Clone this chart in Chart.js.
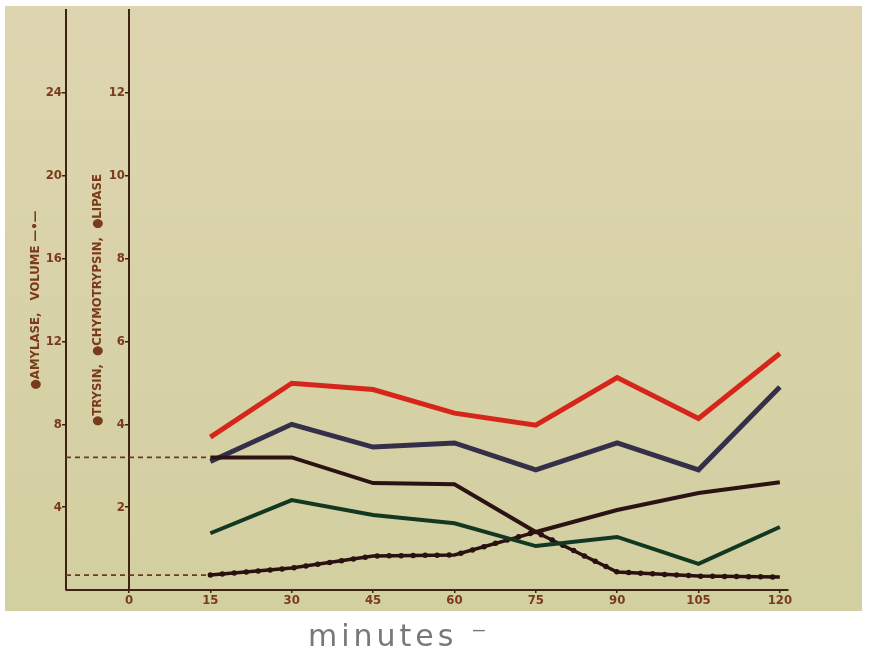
<!DOCTYPE html>
<html>
<head>
<meta charset="utf-8">
<script src="https://cdn.jsdelivr.net/npm/chart.js@4/dist/chart.umd.min.js"></script>
<style>
  html, body { margin: 0; padding: 0; background: #ffffff; }
  #wrap { width: 870px; height: 654px; }
</style>
</head>
<body>
<div id="wrap"><canvas id="c" width="870" height="654"></canvas></div>
<script>
// Sampling times (minutes after stimulation)
const minutes = [15, 30, 45, 60, 75, 90, 105, 120];
const xTicks = [0, 15, 30, 45, 60, 75, 90, 105, 120];
const leftTicks = [4, 8, 12, 16, 20, 24];
const rightTicks = [2, 4, 6, 8, 10, 12];

// Right-hand scale: enzyme output
const lipase = [3.69, 4.99, 4.84, 4.27, 3.98, 5.13, 4.14, 5.71];
const trypsin = [3.2, 3.2, 2.58, 2.55, 1.4, 1.93, 2.34, 2.6];
const chymotrypsin = [1.37, 2.17, 1.81, 1.61, 1.06, 1.28, 0.63, 1.52];

// Left-hand scale: amylase and secretion volume
const amylase = [6.2, 8.0, 6.9, 7.1, 5.8, 7.1, 5.8, 9.8];
const volume = [0.72, 1.06, 1.64, 1.69, 2.8, 0.87, 0.67, 0.63];

// Basal levels before stimulation (left-hand scale)
const basalLevels = [6.4, 0.72];

const leftTitle = '\u25CFAMYLASE,   VOLUME \u2014\u2022\u2014';
const rightTitle = '\u25CFTRYSIN,  \u25CFCHYMOTRYPSIN,  \u25CFLIPASE';
const xTitle = 'minutes \u207B';

const axisColor = '#3f2216';
const labelColor = '#7a3a1c';
const narrow = '"Liberation Sans Narrow", "DejaVu Sans Condensed", "DejaVu Sans", sans-serif';

const pts = arr => minutes.map((m, i) => ({ x: m, y: arr[i] }));

// Photographic paper backdrop
const paper = {
  id: 'paper',
  beforeDraw(chart) {
    const { ctx } = chart;
    ctx.save();
    ctx.fillStyle = '#ffffff';
    ctx.fillRect(0, 0, chart.width, chart.height);
    const g = ctx.createLinearGradient(0, 6, 0, 611);
    g.addColorStop(0, '#ded5b0');
    g.addColorStop(1, '#d2cfa0');
    ctx.fillStyle = g;
    ctx.fillRect(5, 6, 857, 605);
    ctx.restore();
  }
};

// Dashed basal levels from the left axis to the first sample, and the
// base line joining the two vertical axes
const basal = {
  id: 'basal',
  beforeDatasetsDraw(chart) {
    const { ctx, scales: { x, yL } } = chart;
    ctx.save();
    ctx.strokeStyle = '#6b3a20';
    ctx.lineWidth = 1.8;
    ctx.setLineDash([5, 4]);
    const x0 = yL.right, x1 = x.getPixelForValue(minutes[0]);
    basalLevels.forEach(v => {
      const py = yL.getPixelForValue(v);
      ctx.beginPath();
      ctx.moveTo(x0, py);
      ctx.lineTo(x1, py);
      ctx.stroke();
    });
    ctx.setLineDash([]);
    ctx.strokeStyle = axisColor;
    ctx.lineWidth = 2;
    ctx.beginPath();
    ctx.moveTo(yL.right, x.top);
    ctx.lineTo(x.left, x.top);
    ctx.stroke();
    ctx.restore();
  }
};

// Time caption under the axis
const caption = {
  id: 'caption',
  afterDraw(chart) {
    const { ctx, scales: { x } } = chart;
    ctx.save();
    ctx.font = '30px "DejaVu Sans", sans-serif';
    ctx.fillStyle = '#787878';
    try { ctx.letterSpacing = '4px'; } catch (e) {}
    ctx.textAlign = 'left';
    ctx.textBaseline = 'alphabetic';
    ctx.fillText(xTitle, x.getPixelForValue(33), x.bottom + 36);
    ctx.restore();
  }
};

const tickFont = { family: narrow, size: 13, weight: 'bold' };
const titleFont = { family: narrow, size: 13, weight: 'bold' };

new Chart(document.getElementById('c'), {
  type: 'line',
  data: {
    datasets: [
      { label: 'Chymotrypsin', data: pts(chymotrypsin), yAxisID: 'yR', borderColor: '#123822', borderWidth: 4 },
      { label: 'Trypsin', data: pts(trypsin), yAxisID: 'yR', borderColor: '#2c1313', borderWidth: 4 },
      { label: 'Amylase', data: pts(amylase), yAxisID: 'yL', borderColor: '#34304a', borderWidth: 5 },
      { label: 'Lipase', data: pts(lipase), yAxisID: 'yR', borderColor: '#d6261b', borderWidth: 5 },
      { label: 'Volume', data: pts(volume), yAxisID: 'yL', borderColor: '#2a1010', borderWidth: 3.5 },
      { label: 'Volume beads', data: pts(volume), yAxisID: 'yL', borderColor: '#2a1010', borderWidth: 5.5,
        borderDash: [0, 12], borderCapStyle: 'round' }
    ]
  },
  options: {
    responsive: false,
    devicePixelRatio: 1,
    animation: false,
    layout: { padding: { left: 4, top: 10, right: 82, bottom: 44 } },
    elements: {
      point: { radius: 0, hoverRadius: 0 },
      line: { tension: 0, borderJoinStyle: 'miter', borderCapStyle: 'butt', fill: false }
    },
    plugins: { legend: { display: false }, tooltip: { enabled: false } },
    scales: {
      x: {
        type: 'linear', position: 'bottom', min: 0, max: 121.5,
        afterBuildTicks: s => { s.ticks = xTicks.map(v => ({ value: v })); },
        afterFit: s => { s.height = 20; },
        border: { color: axisColor, width: 2 },
        grid: { drawOnChartArea: false, drawTicks: true, tickLength: 3, color: axisColor, lineWidth: 1.5 },
        ticks: { padding: 0, color: labelColor, font: { family: narrow, size: 13, weight: 'bold' }, maxRotation: 0, autoSkip: false }
      },
      yL: {
        type: 'linear', position: 'left', weight: 2, min: 0, max: 28,
        afterBuildTicks: s => { s.ticks = leftTicks.map(v => ({ value: v })); },
        afterFit: s => { s.width = 62; },
        border: { color: axisColor, width: 2 },
        grid: { drawOnChartArea: false, drawTicks: true, tickLength: 4, color: axisColor, lineWidth: 1.5 },
        ticks: { padding: 0, color: labelColor, font: tickFont },
        title: { display: true, text: leftTitle, color: labelColor, font: titleFont, padding: { top: 24, bottom: 0 } }
      },
      yR: {
        type: 'linear', position: 'left', weight: 1, min: 0, max: 14,
        afterBuildTicks: s => { s.ticks = rightTicks.map(v => ({ value: v })); },
        afterFit: s => { s.width = 63; },
        border: { color: axisColor, width: 2 },
        grid: { drawOnChartArea: false, drawTicks: true, tickLength: 4, color: axisColor, lineWidth: 1.5 },
        ticks: { padding: 0, color: labelColor, font: tickFont },
        title: { display: true, text: rightTitle, color: labelColor, font: titleFont, padding: { top: 24, bottom: 0 } }
      }
    }
  },
  plugins: [paper, basal, caption]
});
</script>
</body>
</html>
